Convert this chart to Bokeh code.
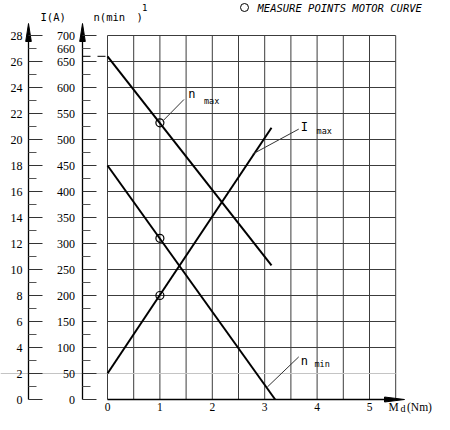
from bokeh.plotting import figure
from bokeh.models import Range1d
from bokeh.core.properties import value
from bokeh.embed import file_html
from bokeh.resources import INLINE

# ---------------- data ----------------
torque_ticks = [0, 1, 2, 3, 4, 5]
torque_labels = ["0", "1", "2", "3", "4", "5"]
torque_grid = [0, 0.5, 1, 1.5, 2, 2.5, 3, 3.5, 4, 4.5, 5, 5.5]
speed_grid = [0, 50, 100, 150, 200, 250, 300, 350, 400, 450, 500, 550, 600, 650, 700]
speed_minor = [25, 75, 125, 175, 225, 275, 325, 375, 425, 475, 525, 575, 625, 675]
speed_labels = ["0", "50", "100", "150", "200", "250", "300", "350", "400", "450",
                "500", "550", "600", "650", "700"]
current_major = [0, 2, 4, 6, 8, 10, 12, 14, 16, 18, 20, 22, 24, 26, 28]
current_minor = [1, 3, 5, 7, 9, 11, 13, 15, 17, 19, 21, 23, 25, 27]
current_labels = ["0", "2", "4", "6", "8", "10", "12", "14", "16", "18", "20",
                  "22", "24", "26", "28"]
speed_marked = 660
speed_light = 50

nmax_torque = [0.0, 3.13]
nmax_speed = [660, 258]
nmin_torque = [0.0, 3.2]
nmin_speed = [450, 0]
imax_torque = [0.0, 3.13]
imax_current = [2.0, 20.9]

measure_speed_torque = [1.0, 1.0]
measure_speed = [532, 310]
measure_current_torque = [1.0]
measure_current = [8.0]

# curve label anchors (torque, speed)
leader_x0 = [1.05, 2.77, 3.05]
leader_y0 = [535, 472, 24]
leader_x1 = [1.46, 3.65, 3.65]
leader_y1 = [577, 520, 82]
main_lab_x = [1.54, 3.69, 3.69]
main_lab_y = [588, 525, 75]
sub_lab_x = [1.84, 3.99, 3.95]
sub_lab_y = [575, 517, 68]

# ---------------- layout helpers (picture pixels -> data) ----------------
W, H = 434, 414
PX0, SX = 107.0, 52.4          # picture x of 0 Nm, px per Nm
PY0, SY = 399.0, 364.0 / 700.0  # picture y of 0 rpm, px per rpm
AMP = 28.0 / 700.0


def X(px):
    return (px - PX0) / SX


def Y(py):
    return (PY0 - py) / SY


TICK_FONT = value("Liberation Sans Narrow")
MONO = value("DejaVu Sans Mono")
GRID = "#3c3c3c"

p = figure(width=W, height=H,
           x_range=Range1d(X(0), X(W)),
           y_range=Range1d(Y(H), Y(0)),
           x_axis_type=None, y_axis_type=None,
           output_backend="svg", toolbar_location=None, min_border=0)
p.extra_y_ranges = {"cur": Range1d(Y(H) * AMP, Y(0) * AMP)}
p.outline_line_color = None
p.background_fill_color = "white"
p.border_fill_color = "white"

# ---------------- grid ----------------
gx_top = speed_grid[-1]
p.segment(x0=torque_grid, y0=[0] * len(torque_grid), x1=torque_grid,
          y1=[gx_top] * len(torque_grid), line_color=GRID, line_width=1)
dark_rows = [s for s in speed_grid if s not in (0, speed_light)]
p.segment(x0=[0] * len(dark_rows), y0=dark_rows, x1=[torque_grid[-1]] * len(dark_rows),
          y1=dark_rows, line_color=GRID, line_width=1)
# light guide line at 50 rpm / 2 A
p.segment(x0=[X(0)], y0=[speed_light], x1=[torque_grid[-1]], y1=[speed_light],
          line_color="#c4c4c4", line_width=1)

# bottom axis line + arrow
p.segment(x0=[0], y0=[0], x1=[X(386)], y1=[0], line_color="black", line_width=1.5)
p.patches(xs=[[X(384), X(404), X(384)]], ys=[[Y(PY0 + 2.5), Y(PY0), Y(PY0 - 2.5)]],
          fill_color="black", line_color="black", line_width=1)

# ---------------- left axes ----------------
IA = 28.0   # picture x of current axis
NA = 82.0   # picture x of speed axis
for ax in (IA, NA):
    p.segment(x0=[X(ax)], y0=[0], x1=[X(ax)], y1=[Y(40)], line_color="black", line_width=1.3)
    p.patches(xs=[[X(ax - 2.8), X(ax), X(ax + 2.8)]], ys=[[Y(41), Y(23), Y(41)]],
              fill_color="black", line_color="black", line_width=1)

# current ticks
p.segment(x0=[X(IA)] * len(current_major), y0=current_major,
          x1=[X(IA + 14)] * len(current_major), y1=current_major,
          line_color="#333333", line_width=1, y_range_name="cur")
p.segment(x0=[X(IA)] * len(current_minor), y0=current_minor,
          x1=[X(IA + 8)] * len(current_minor), y1=current_minor,
          line_color="#555555", line_width=1, y_range_name="cur")
p.text(x=[X(22)] * len(current_major), y=current_major, text=current_labels,
       text_font=TICK_FONT, text_font_size=value("12px"), text_align="right",
       text_baseline="middle", text_color="black", y_range_name="cur")

# speed ticks
p.segment(x0=[X(NA)] * len(speed_grid), y0=speed_grid,
          x1=[X(NA + 14)] * len(speed_grid), y1=speed_grid,
          line_color="#333333", line_width=1)
p.segment(x0=[X(NA)] * len(speed_minor), y0=speed_minor,
          x1=[X(NA + 8)] * len(speed_minor), y1=speed_minor,
          line_color="#555555", line_width=1)
p.text(x=[X(74.5)] * len(speed_grid), y=speed_grid, text=speed_labels,
       text_font=TICK_FONT, text_font_size=value("12px"), text_align="right",
       text_baseline="middle", text_color="black")

# 660 mark
p.segment(x0=[X(NA)], y0=[speed_marked], x1=[0], y1=[speed_marked],
          line_color="black", line_width=1, line_dash="8 7")
p.text(x=[X(74.5)], y=[speed_marked], y_offset=-7, text=[str(speed_marked)],
       text_font=TICK_FONT, text_font_size=value("12px"), text_align="right",
       text_baseline="middle")

# bottom tick labels
p.text(x=torque_ticks, y=[Y(406)] * len(torque_ticks), text=torque_labels,
       text_font=TICK_FONT, text_font_size=value("11.5px"), text_align="center",
       text_baseline="middle")

# axis titles
p.text(x=[X(40)], y=[Y(16)], text=["I(A)"], text_font=MONO,
       text_font_size=value("10.5px"), text_baseline="middle")
p.text(x=[X(93)], y=[Y(16)], text=["n(min"], text_font=MONO,
       text_font_size=value("10.5px"), text_baseline="middle")
p.text(x=[X(136)], y=[Y(16)], text=[")"], text_font=MONO,
       text_font_size=value("10.5px"), text_baseline="middle")
p.text(x=[X(141.5)], y=[Y(7)], text=["1"], text_font=MONO,
       text_font_size=value("9px"), text_baseline="middle")
p.text(x=[X(388)], y=[Y(406)], text=["M"], text_font=TICK_FONT,
       text_font_size=value("11.5px"), text_baseline="middle")
p.text(x=[X(400)], y=[Y(407.5)], text=["d"], text_font=TICK_FONT,
       text_font_size=value("10px"), text_baseline="middle")
p.text(x=[X(406.5)], y=[Y(406)], text=["(Nm)"], text_font=TICK_FONT,
       text_font_size=value("11.5px"), text_baseline="middle")

# legend
p.scatter(x=[X(244)], y=[Y(7)], marker="circle", size=8, fill_color=None,
          line_color="black", line_width=1)
p.text(x=[X(257)], y=[Y(7)], text=["MEASURE POINTS MOTOR CURVE"], text_font=MONO,
       text_font_size=value("10.5px"), text_font_style="italic", text_baseline="middle")

# ---------------- curves ----------------
p.line(nmax_torque, nmax_speed, line_color="black", line_width=2)
p.line(nmin_torque, nmin_speed, line_color="black", line_width=2)
p.line(imax_torque, imax_current, line_color="black", line_width=2, y_range_name="cur")

p.scatter(measure_speed_torque, measure_speed, marker="circle", size=8,
          fill_color=None, line_color="black", line_width=1.2)
p.scatter(measure_current_torque, measure_current, marker="circle", size=8,
          fill_color=None, line_color="black", line_width=1.2, y_range_name="cur")

# ---------------- curve labels with leader lines ----------------
p.segment(x0=leader_x0, y0=leader_y0, x1=leader_x1, y1=leader_y1,
          line_color="#333333", line_width=1)
p.text(x=main_lab_x, y=main_lab_y, text=["n", "I", "n"],
       text_font=MONO, text_font_size=value("12px"), text_baseline="middle")
p.text(x=sub_lab_x, y=sub_lab_y, text=["max", "max", "min"], text_font=MONO,
       text_font_size=value("8.5px"), text_baseline="middle")

open("out.html", "w").write(file_html(p, INLINE))
